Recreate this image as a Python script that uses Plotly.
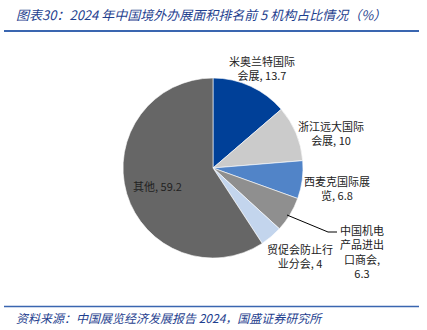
import plotly.graph_objects as go

labels = ["米奥兰特国际会展", "浙江远大国际会展", "西麦克国际展览", "中国机电产品进出口商会", "贸促会防止行业分会", "其他"]
values = [13.7, 10, 6.8, 6.3, 4, 59.2]
label_text = ["米奥兰特国际<br>会展, 13.7", "浙江远大国际<br>会展, 10", "西麦克国际展<br>览, 6.8",
              "中国机电<br>产品进出<br>口商会,<br>6.3", "贸促会防止行<br>业分会, 4", "其他, 59.2"]
colors = ["#004098", "#cbcbcb", "#5184c8", "#8f8f8f", "#c3d5ed", "#666666"]
# label centres in pixel coords (x, y from top)
label_pos = [(262, 68), (331, 133), (337, 188), (362, 251), (300, 256), (157, 186)]

W, H = 427, 330
fig = go.Figure()
cx, cy, r = 213, 168, 90
fig.add_trace(go.Pie(
    labels=labels, values=values, sort=False, direction="clockwise", rotation=0,
    marker=dict(colors=colors, line=dict(color="white", width=0.6)),
    textinfo="none", hoverinfo="label+value", showlegend=False,
    domain=dict(x=[(cx - r) / W, (cx + r) / W], y=[1 - (cy + r) / H, 1 - (cy - r) / H]),
))

font_lbl = dict(family="Noto Sans CJK SC, Liberation Sans", size=11, color="#222222")
for t, (x, y) in zip(label_text, label_pos):
    fig.add_annotation(x=x / W, y=1 - y / H, xref="paper", yref="paper", text=t,
                       showarrow=False, font=font_lbl, align="center",
                       xanchor="center", yanchor="middle")

# leader line for 中国机电
fig.add_shape(type="path", xref="paper", yref="paper",
              path=f"M {287/W},{1-215/H} L {328/W},{1-232/H} L {337/W},{1-232/H}",
              line=dict(color="black", width=1))

# title and lines
fig.add_annotation(x=14 / W, y=1 - 14 / H, xref="paper", yref="paper", showarrow=False,
                   xanchor="left", yanchor="middle",
                   text="<i>图表30：2024 年中国境外办展面积排名前 5 机构占比情况（%）</i>",
                   font=dict(family="Noto Sans CJK SC", size=13, color="#1f3f8f"))
fig.add_shape(type="line", xref="paper", yref="paper", x0=4 / W, x1=419 / W,
              y0=1 - 31 / H, y1=1 - 31 / H, line=dict(color="#3a66b0", width=2))
fig.add_shape(type="line", xref="paper", yref="paper", x0=4 / W, x1=419 / W,
              y0=1 - 306.5 / H, y1=1 - 306.5 / H, line=dict(color="#3a66b0", width=1.5))
fig.add_annotation(x=14 / W, y=1 - 317 / H, xref="paper", yref="paper", showarrow=False,
                   xanchor="left", yanchor="middle",
                   text="<i>资料来源：中国展览经济发展报告 2024，国盛证券研究所</i>",
                   font=dict(family="Noto Sans CJK SC", size=12, color="#1f3f8f"))

fig.update_layout(width=W, height=H, margin=dict(l=0, r=0, t=0, b=0),
                  paper_bgcolor="white", plot_bgcolor="white")
fig.write_html("out.html")
